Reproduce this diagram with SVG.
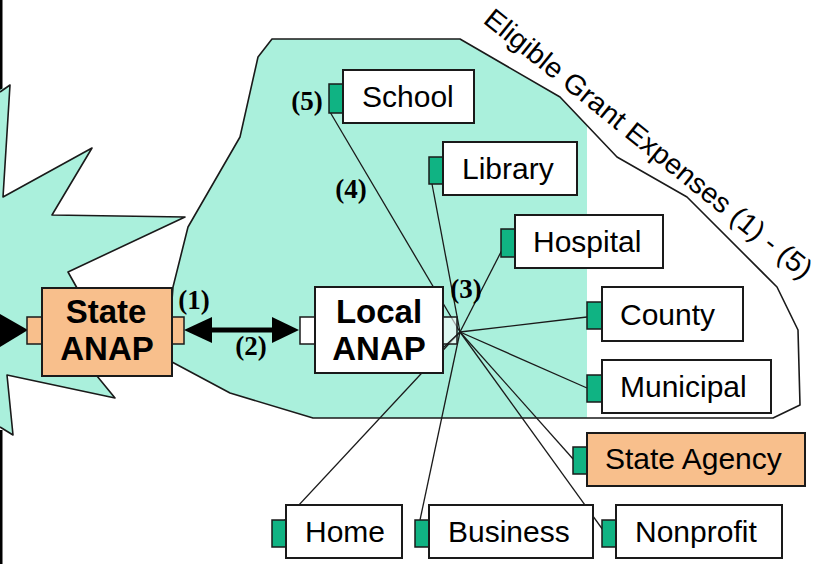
<svg xmlns="http://www.w3.org/2000/svg" width="824" height="564" viewBox="0 0 824 564">
<style>
.box{fill:#fff;stroke:#1a1a1a;stroke-width:2}
.org{fill:#f8bf8c;stroke:#1a1a1a;stroke-width:2}
.port{fill:#10b383;stroke:#1a1a1a;stroke-width:1.5}
.oport{fill:#f8bf8c;stroke:#1a1a1a;stroke-width:1.5}
.wport{fill:#fff;stroke:#1a1a1a;stroke-width:1.5}
.lbl{font-family:"Liberation Sans",Arial,sans-serif;font-size:30px;fill:#000}
.elig{font-family:"Liberation Sans",Arial,sans-serif;font-size:28px;fill:#000}
.blbl{font-family:"Liberation Sans",Arial,sans-serif;font-size:33px;font-weight:bold;fill:#000;text-anchor:middle}
.num{font-family:"Liberation Serif","Times New Roman",serif;font-size:27px;font-weight:bold;fill:#000;text-anchor:middle}
.outline{fill:none;stroke:#1a1a1a;stroke-width:1.6;stroke-linejoin:round}
.con{stroke:#1a1a1a;stroke-width:1.3;fill:none}
</style>
<defs>
<clipPath id="clipL"><rect x="0" y="0" width="587" height="564"/></clipPath>
</defs>
<rect width="824" height="564" fill="#fff"/>
<g id="background">
<rect x="0" y="0" width="2.5" height="96" fill="#000"/>
<rect x="0" y="430" width="2.5" height="134" fill="#000"/>
<polygon points="-5,92 10,85 3,197 92,148 52,215 118,216 185,217 68,272 77,288 150,300 150,370 97,376 115,398 7,375 13,435 0,427 -5,427" fill="#aaf0dc"/>
<polyline class="outline" points="0,92 10,85 3,197 92,148 52,215 118,216 185,217 68,272 77,288"/>
<polyline class="outline" points="97,376 115,398 7,375 13,435 0,427"/>
<polygon points="272,39 460,39 560,97 617,157 687,197 777,287 798,330 800,405 773,418 313,418 230,393 172,362 172,300 173,287 188,227 240,137 258,57" fill="#aaf0dc" clip-path="url(#clipL)"/>
<polygon class="outline" points="272,39 460,39 560,97 617,157 687,197 777,287 798,330 800,405 773,418 313,418 230,393 172,362 172,300 173,287 188,227 240,137 258,57"/>
<text class="elig" x="482" y="22" transform="rotate(38.8 482 22)" textLength="412" lengthAdjust="spacingAndGlyphs">Eligible Grant Expenses (1) - (5)</text>
</g>
<g id="connectors">
<polygon points="0,314 28,330 0,347" fill="#000"/>
<line x1="205" y1="330" x2="280" y2="330" stroke="#000" stroke-width="5"/>
<polygon points="184,330 212,317 212,343" fill="#000"/>
<polygon points="299,330 272,317 272,343" fill="#000"/>
<line class="con" x1="460" y1="332" x2="330" y2="112"/>
<line class="con" x1="460" y1="332" x2="432" y2="184"/>
<line class="con" x1="460" y1="332" x2="502" y2="250"/>
<line class="con" x1="460" y1="332" x2="587" y2="317"/>
<line class="con" x1="460" y1="332" x2="587" y2="388"/>
<line class="con" x1="460" y1="332" x2="574" y2="460"/>
<line class="con" x1="460" y1="332" x2="603" y2="530"/>
<line class="con" x1="460" y1="332" x2="420" y2="520"/>
<line class="con" x1="460" y1="332" x2="284" y2="521"/>
</g>
<g id="state-anap">
<rect class="oport" x="27" y="317" width="15" height="27"/>
<rect class="oport" x="172" y="317" width="12" height="27"/>
<rect class="org" x="42" y="288" width="130" height="88"/>
<text class="blbl" x="106" y="323">State</text>
<text class="blbl" x="107" y="360">ANAP</text>
</g>
<g id="local-anap">
<rect class="wport" x="300" y="317" width="15" height="27"/>
<rect class="box" x="315" y="287" width="128" height="86"/>
<text class="blbl" x="379" y="323">Local</text>
<text class="blbl" x="379" y="360">ANAP</text>
</g>
<g id="local-port">
<rect x="443" y="317" width="14" height="27" fill="#fff" fill-opacity="0.6" stroke="#1a1a1a" stroke-width="1.5"/>
<line class="con" x1="460" y1="332" x2="443" y2="348"/>
</g>
<g id="school">
<rect class="port" x="329" y="84" width="14" height="29"/>
<rect class="box" x="343" y="70" width="131" height="53"/>
<text class="lbl" x="362" y="107">School</text>
</g>
<g id="library">
<rect class="port" x="429" y="157" width="14" height="27"/>
<rect class="box" x="443" y="142" width="134" height="53"/>
<text class="lbl" x="462" y="179">Library</text>
</g>
<g id="hospital">
<rect class="port" x="501" y="229" width="14" height="28"/>
<rect class="box" x="515" y="215" width="148" height="53"/>
<text class="lbl" x="533" y="252">Hospital</text>
</g>
<g id="county">
<rect class="port" x="587" y="302" width="15" height="27"/>
<rect class="box" x="602" y="287" width="141" height="54"/>
<text class="lbl" x="620" y="325">County</text>
</g>
<g id="municipal">
<rect class="port" x="587" y="375" width="15" height="27"/>
<rect class="box" x="602" y="360" width="169" height="53"/>
<text class="lbl" x="620" y="397">Municipal</text>
</g>
<g id="state-agency">
<rect class="port" x="573" y="447" width="14" height="27"/>
<rect class="org" x="587" y="433" width="218" height="53"/>
<text class="lbl" x="605" y="469">State Agency</text>
</g>
<g id="home">
<rect class="port" x="272" y="520" width="14" height="27"/>
<rect class="box" x="286" y="505" width="116" height="53"/>
<text class="lbl" x="305" y="542">Home</text>
</g>
<g id="business">
<rect class="port" x="415" y="520" width="14" height="27"/>
<rect class="box" x="429" y="505" width="164" height="53"/>
<text class="lbl" x="448" y="542">Business</text>
</g>
<g id="nonprofit">
<rect class="port" x="602" y="520" width="14" height="27"/>
<rect class="box" x="616" y="505" width="166" height="53"/>
<text class="lbl" x="635" y="542">Nonprofit</text>
</g>
<g id="labels">
<text class="num" x="307" y="110">(5)</text>
<text class="num" x="351" y="198">(4)</text>
<text class="num" x="466" y="298">(3)</text>
<text class="num" x="194" y="309">(1)</text>
<text class="num" x="251" y="355">(2)</text>
</g>
</svg>
